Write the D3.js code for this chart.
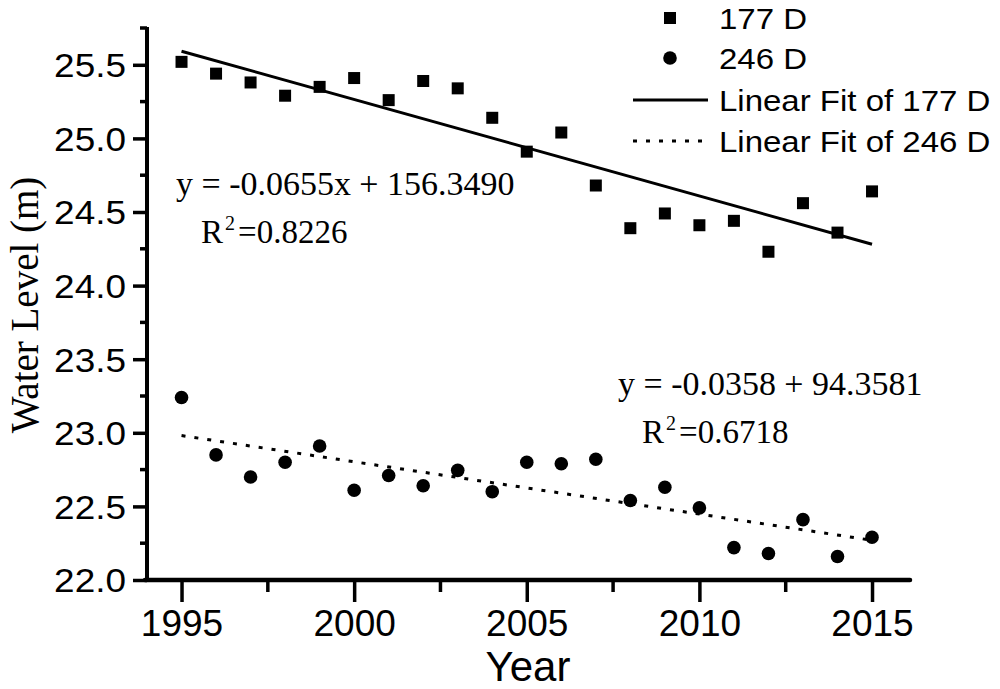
<!DOCTYPE html>
<html>
<head>
<meta charset="utf-8">
<script src="https://cdn.jsdelivr.net/npm/d3@7"></script>
<style>
  body { margin: 0; background: #fff; }
  svg { display: block; }
</style>
</head>
<body>
<div id="chart"></div>
<script>
// Data
const years = [1995, 1996, 1997, 1998, 1999, 2000, 2001, 2002, 2003, 2004, 2005,
  2006, 2007, 2008, 2009, 2010, 2011, 2012, 2013, 2014, 2015];
const well177 = [25.52, 25.44, 25.38, 25.29, 25.35, 25.41, 25.26, 25.39, 25.34, 25.14, 24.91,
  25.04, 24.68, 24.39, 24.49, 24.41, 24.44, 24.23, 24.56, 24.36, 24.64];
const well246 = [23.24, 22.85, 22.70, 22.80, 22.91, 22.61, 22.71, 22.64, 22.745, 22.60, 22.80,
  22.79, 22.82, 22.54, 22.63, 22.49, 22.22, 22.18, 22.41, 22.16, 22.29];

const xMajor = [1995, 2000, 2005, 2010, 2015];
const xMinor = [1997.5, 2002.5, 2007.5, 2012.5];
const yMajor = [22.0, 22.5, 23.0, 23.5, 24.0, 24.5, 25.0, 25.5];
const yMinor = [22.25, 22.75, 23.25, 23.75, 24.25, 24.75, 25.25, 25.75];

const legendLabels = ["177 D", "246 D", "Linear Fit of 177 D", "Linear Fit of 246 D"];
const eq177 = ["y = -0.0655x + 156.3490", "0.8226"];
const eq246 = ["y = -0.0358 + 94.3581", "0.6718"];

const width = 1000;
const height = 689;

const svg = d3.select("#chart").append("svg")
  .attr("width", width)
  .attr("height", height);

const x = d3.scaleLinear().domain([1994, 2016.1]).range([147, 910]);
const y = d3.scaleLinear().domain([22, 25.75]).range([580, 28]);

// least squares fit
function linearFit(xs, ys) {
  const mx = d3.mean(xs), my = d3.mean(ys);
  let sxy = 0, sxx = 0;
  xs.forEach((v, i) => { sxy += (v - mx) * (ys[i] - my); sxx += (v - mx) * (v - mx); });
  const slope = sxy / sxx;
  return (v) => my + slope * (v - mx);
}
const fit177 = linearFit(years, well177);
const fit246 = linearFit(years, well246);

// axes
const axisColor = "#000";
const yAxis = svg.append("g")
  .attr("transform", `translate(${x(1994)},0)`)
  .call(d3.axisLeft(y).tickValues(yMajor).tickSize(14).tickFormat(d3.format(".1f")));
yAxis.selectAll(".tick line").attr("stroke-width", 3.5);
yAxis.selectAll(".tick text")
  .attr("x", -21 / 1.12)
  .attr("dy", "0.36em")
  .attr("transform", "scale(1.12,1)")
  .style("font-family", "Arial, 'Liberation Sans', sans-serif")
  .style("font-size", "33px")
  .attr("fill", "#000");
yAxis.select(".domain").remove();
yAxis.selectAll(".minor")
  .data(yMinor)
  .join("line")
  .attr("x1", -7).attr("x2", 0)
  .attr("y1", (d) => y(d)).attr("y2", (d) => y(d))
  .attr("stroke", axisColor).attr("stroke-width", 3.5);
yAxis.append("line")
  .attr("x1", 0).attr("x2", 0)
  .attr("y1", y(25.75) - 1).attr("y2", y(22) + 1.5)
  .attr("stroke", axisColor).attr("stroke-width", 4);

const xAxis = svg.append("g")
  .attr("transform", `translate(0,${y(22)})`)
  .call(d3.axisBottom(x).tickValues(xMajor).tickSize(22).tickPadding(8).tickFormat(d3.format("d")));
xAxis.selectAll(".tick line").attr("stroke-width", 3.5);
xAxis.selectAll(".tick text")
  .style("font-family", "Arial, 'Liberation Sans', sans-serif")
  .style("font-size", "37px")
  .attr("fill", "#000");
xAxis.select(".domain").remove();
xAxis.selectAll(".minor")
  .data(xMinor)
  .join("line")
  .attr("x1", (d) => x(d)).attr("x2", (d) => x(d))
  .attr("y1", 0).attr("y2", 12)
  .attr("stroke", axisColor).attr("stroke-width", 3.5);
xAxis.append("line")
  .attr("x1", x(1994) - 2).attr("x2", x(2016.1))
  .attr("y1", 0).attr("y2", 0)
  .attr("stroke", axisColor).attr("stroke-width", 4.5)
  .attr("stroke-linecap", "round");

// axis titles
svg.append("text")
  .attr("transform", `translate(38,305) rotate(-90)`)
  .attr("text-anchor", "middle")
  .style("font-family", "'Times New Roman', 'Liberation Serif', serif")
  .style("font-size", "39px")
  .text("Water Level (m)");

svg.append("text")
  .attr("x", 528)
  .attr("y", 681)
  .attr("text-anchor", "middle")
  .style("font-family", "Arial, 'Liberation Sans', sans-serif")
  .style("font-size", "42px")
  .text("Year");

// fit lines
const fitLine = d3.line().x((d) => x(d[0])).y((d) => y(d[1]));
const ends = [years[0], years[years.length - 1]];
svg.append("path")
  .datum(ends.map((v) => [v, fit177(v)]))
  .attr("d", fitLine)
  .attr("fill", "none")
  .attr("stroke", "#000")
  .attr("stroke-width", 3);
svg.append("path")
  .datum(ends.map((v) => [v, fit246(v)]))
  .attr("d", fitLine)
  .attr("fill", "none")
  .attr("stroke", "#000")
  .attr("stroke-width", 3)
  .attr("stroke-dasharray", "4,9");

// markers
const sq = 12;
svg.append("g")
  .selectAll("rect")
  .data(years)
  .join("rect")
  .attr("x", (d) => x(d) - sq / 2)
  .attr("y", (d, i) => y(well177[i]) - sq / 2)
  .attr("width", sq)
  .attr("height", sq)
  .attr("fill", "#000");

svg.append("g")
  .selectAll("circle")
  .data(years)
  .join("circle")
  .attr("cx", (d) => x(d))
  .attr("cy", (d, i) => y(well246[i]))
  .attr("r", 6.8)
  .attr("fill", "#000");

// equations
const serif = "'Times New Roman', 'Liberation Serif', serif";
function equation(lines, ex, ey, rx, ry) {
  svg.append("text")
    .attr("x", ex).attr("y", ey)
    .style("font-family", serif)
    .style("font-size", "33px")
    .attr("transform", `translate(${ex},0) scale(1.03,1) translate(${-ex},0)`)
    .text(lines[0]);
  const r = svg.append("text")
    .attr("x", rx).attr("y", ry)
    .style("font-family", serif)
    .style("font-size", "33px");
  r.append("tspan").text("R");
  r.append("tspan").attr("dy", -13).style("font-size", "20px").attr("dx", 2).text("2");
  r.append("tspan").attr("dy", 13).attr("dx", 3).text("=" + lines[1]);
}
equation(eq177, 176, 195, 201, 243);
equation(eq246, 618, 395, 642, 443);

// legend
const legend = svg.append("g");
const legendY = [18, 58, 100, 141];
const legendFont = "Arial, 'Liberation Sans', sans-serif";
legend.append("rect")
  .attr("x", 670 - sq / 2).attr("y", legendY[0] - sq / 2)
  .attr("width", sq).attr("height", sq).attr("fill", "#000");
legend.append("circle")
  .attr("cx", 670).attr("cy", legendY[1]).attr("r", 6.8).attr("fill", "#000");
legend.append("line")
  .attr("x1", 633).attr("x2", 708)
  .attr("y1", legendY[2]).attr("y2", legendY[2])
  .attr("stroke", "#000").attr("stroke-width", 3);
legend.append("line")
  .attr("x1", 633).attr("x2", 708)
  .attr("y1", legendY[3]).attr("y2", legendY[3])
  .attr("stroke", "#000").attr("stroke-width", 3)
  .attr("stroke-dasharray", "4,9");
legend.selectAll("text")
  .data(legendLabels)
  .join("text")
  .attr("transform", (d, i) => `translate(719,${legendY[i] + 11}) scale(1.1,1)`)
  .style("font-family", legendFont)
  .style("font-size", "30px")
  .text((d) => d);
</script>
</body>
</html>
